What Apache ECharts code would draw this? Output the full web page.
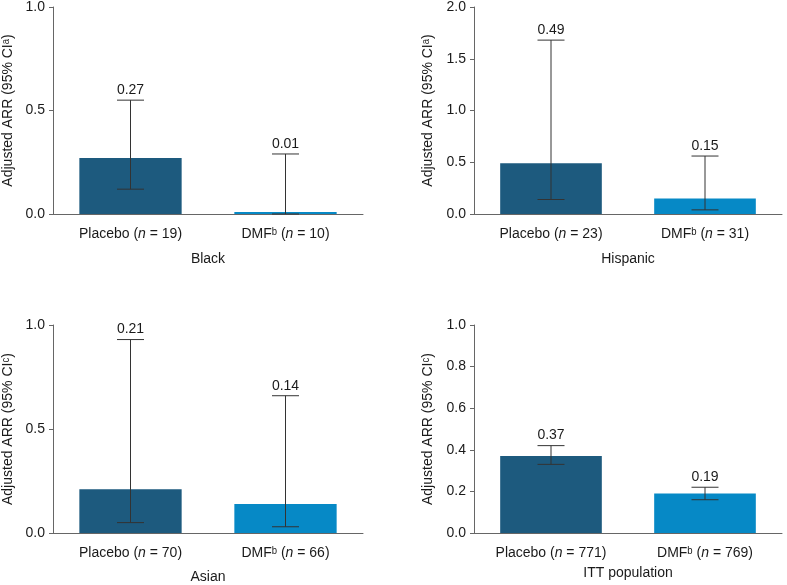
<!DOCTYPE html>
<html>
<head>
<meta charset="utf-8">
<script src="https://cdn.jsdelivr.net/npm/echarts@6/dist/echarts.min.js"></script>
<style>
  html, body { margin: 0; padding: 0; background: #fff; }
  #chart { width: 787px; height: 585px; }
</style>
</head>
<body>
<div id="chart"></div>
<script>
// 数据
var panels = ['Black', 'Hispanic', 'Asian', 'ITT population'];
var placeboN = [19, 23, 70, 771];
var dmfN = [10, 31, 66, 769];
var placeboArr = [0.27, 0.49, 0.21, 0.37];
var dmfArr = [0.01, 0.15, 0.14, 0.19];
var placeboLow = [0.12, 0.14, 0.05, 0.33];
var placeboHigh = [0.55, 1.68, 0.93, 0.42];
var dmfLow = [0.00, 0.04, 0.03, 0.16];
var dmfHigh = [0.29, 0.56, 0.66, 0.22];
var yMax = [1.0, 2.0, 1.0, 1.0];
var yStep = [0.5, 0.5, 0.5, 0.2];
var ciMark = ['a', 'a', 'c', 'c'];

var sup = { a: '\u1d43', b: '\u1d47', c: '\u1d9c' };
var font = 'Liberation Sans, Arial, sans-serif';
var fs = 14;
var textColor = '#1a1a1a';
var placeboColor = '#1d5a7e';
var dmfColor = '#0689c6';

var grids = [
    { left: 53, top: 7, right: 424, bottom: 371 },
    { left: 474, top: 7, right: 5, bottom: 371 },
    { left: 53, top: 325, right: 424, bottom: 52 },
    { left: 474, top: 325, right: 5, bottom: 52 }
];
var yNameGap = [38, 39, 38, 39];
var xNameGap = [38, 38, 37, 33];

var xAxes = [], yAxes = [], series = [];
for (var i = 0; i < 4; i++) {
    xAxes.push({
        gridIndex: i,
        type: 'category',
        data: ['Placebo', 'DMF'],
        name: panels[i],
        nameLocation: 'middle',
        nameGap: xNameGap[i],
        nameTextStyle: { color: textColor, fontSize: fs, fontFamily: font },
        axisLine: { lineStyle: { color: '#666', width: 1 } },
        axisTick: { show: false },
        axisLabel: {
            interval: 0,
            hideOverlap: false,
            margin: 13,
            color: textColor,
            fontSize: fs,
            fontFamily: font,
            formatter: (function (idx) {
                return function (v) {
                    if (v === 'Placebo') return 'Placebo ({i|n} = ' + placeboN[idx] + ')';
                    return 'DMF' + sup.b + ' ({i|n} = ' + dmfN[idx] + ')';
                };
            })(i),
            rich: { i: { fontStyle: 'italic', fontSize: fs, fontFamily: font, color: textColor } }
        }
    });
    yAxes.push({
        gridIndex: i,
        type: 'value',
        min: 0,
        max: yMax[i],
        interval: yStep[i],
        name: 'Adjusted ARR (95% CI' + sup[ciMark[i]] + ')',
        nameLocation: 'middle',
        nameGap: yNameGap[i],
        nameTextStyle: { color: textColor, fontSize: fs, fontFamily: font },
        axisLine: { show: true, lineStyle: { color: '#666', width: 1 } },
        axisTick: { show: true, length: 4, lineStyle: { color: '#666' } },
        splitLine: { show: false },
        axisLabel: {
            margin: 8,
            color: textColor,
            fontSize: fs,
            fontFamily: font,
            formatter: function (v) { return v.toFixed(1); }
        }
    });
    series.push({
        type: 'bar',
        xAxisIndex: i,
        yAxisIndex: i,
        barWidth: '66%',
        data: [
            { value: placeboArr[i], itemStyle: { color: placeboColor } },
            { value: dmfArr[i], itemStyle: { color: dmfColor } }
        ]
    });
    // 误差线
    series.push({
        type: 'custom',
        xAxisIndex: i,
        yAxisIndex: i,
        z: 5,
        data: [
            [0, placeboLow[i], placeboHigh[i], placeboArr[i]],
            [1, dmfLow[i], dmfHigh[i], dmfArr[i]]
        ],
        renderItem: function (params, api) {
            var lo = api.coord([api.value(0), api.value(1)]);
            var hi = api.coord([api.value(0), api.value(2)]);
            var half = 13.5;
            var st = { stroke: '#333', lineWidth: 1 };
            return {
                type: 'group',
                children: [
                    { type: 'line', shape: { x1: lo[0], y1: lo[1], x2: hi[0], y2: hi[1] }, style: st },
                    { type: 'line', shape: { x1: lo[0] - half, y1: lo[1], x2: lo[0] + half, y2: lo[1] }, style: st },
                    { type: 'line', shape: { x1: hi[0] - half, y1: hi[1], x2: hi[0] + half, y2: hi[1] }, style: st },
                    {
                        type: 'text',
                        x: hi[0],
                        y: hi[1] - 3,
                        style: {
                            text: api.value(3).toFixed(2),
                            fill: textColor,
                            fontSize: fs,
                            fontFamily: font,
                            align: 'center',
                            verticalAlign: 'bottom'
                        }
                    }
                ]
            };
        }
    });
}

var myChart = echarts.init(document.getElementById('chart'));
myChart.setOption({
    animation: false,
    grid: grids,
    xAxis: xAxes,
    yAxis: yAxes,
    series: series
});
</script>
</body>
</html>
